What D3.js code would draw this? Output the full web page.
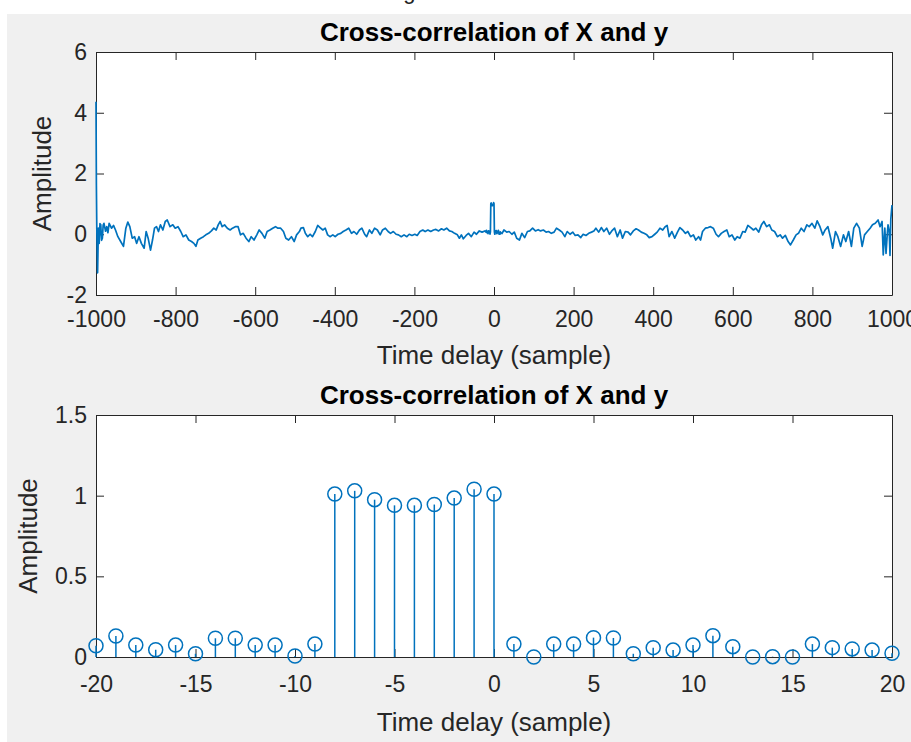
<!DOCTYPE html>
<html>
<head>
<meta charset="utf-8">
<script src="https://cdn.jsdelivr.net/npm/d3@7"></script>
<style>
  body { margin: 0; background: #fff; }
  svg { display: block; }
</style>
</head>
<body>
<script>
// top panel: full cross-correlation, [lag, amplitude]
const xcorrLeft = [
  [-1000, 4.36], [-999, 1.6], [-998, 0.2], [-996, -1.27], [-994, 0.2], [-992, -0.3],
  [-990, 0.35], [-988, 0.31], [-986, -0.2], [-984, -0.13], [-982, 0.3], [-980, 0.36],
  [-976, 0.1], [-973, 0.25], [-970, 0.05], [-967, 0.36], [-961, 0.2], [-956, 0.29],
  [-951, 0.14], [-945, -0.08], [-938, -0.24], [-931, -0.4], [-925, 0.2], [-920, 0.4],
  [-915, 0.25], [-909, -0.13], [-903, -0.08], [-898, -0.3], [-892, -0.08], [-886, -0.3],
  [-879, -0.46], [-874, 0.09], [-869, -0.13], [-863, -0.52], [-858, -0.19], [-853, 0.2],
  [-848, 0.25], [-843, 0.09], [-838, 0.31], [-832, 0.14], [-826, 0.42], [-821, 0.47],
  [-814, 0.25], [-807, 0.31], [-801, 0.2], [-794, 0.25], [-787, 0.09], [-781, -0.08],
  [-774, -0.02], [-767, -0.19], [-760, -0.24], [-754, -0.3], [-749, -0.4], [-744, -0.19],
  [-737, -0.13], [-730, -0.08], [-724, -0.02], [-717, 0.03], [-710, 0.11], [-704, 0.2],
  [-698, 0.14], [-693, 0.31], [-688, 0.42], [-683, 0.25], [-677, 0.31], [-670, 0.2],
  [-663, 0.14], [-657, 0.2], [-650, 0.25], [-643, 0.25], [-637, -0.02], [-630, 0.03],
  [-623, -0.13], [-616, -0.24], [-610, -0.08], [-603, -0.19], [-596, -0.02], [-590, 0.14],
  [-583, 0.03], [-576, -0.13], [-570, 0.09], [-563, 0.14], [-556, 0.2], [-549, 0.25],
  [-543, 0.2], [-536, 0.2], [-529, 0.09], [-523, -0.13], [-516, -0.19], [-509, -0.08],
  [-502, -0.24], [-496, -0.02], [-489, 0.09], [-485, 0.2], [-479, 0.22], [-474, 0.03],
  [-468, -0.08], [-462, 0], [-456, -0.08], [-449, 0.09], [-443, 0.29], [-437, 0.22],
  [-430, 0.14], [-424, 0.2], [-418, -0.02], [-412, -0.08], [-405, -0.02], [-399, -0.08],
  [-392, 0], [-385, 0.03], [-379, 0.09], [-372, 0.14], [-365, 0.2], [-358, 0.03],
  [-352, 0.09], [-345, 0], [-338, 0.14], [-332, 0.2], [-325, 0], [-320, -0.08],
  [-313, 0.14], [-307, 0.03], [-300, 0.2], [-293, 0.14], [-286, -0.02], [-280, 0.14],
  [-273, 0.2], [-266, 0.09], [-260, 0.03], [-253, 0.09], [-246, 0], [-240, -0.02],
  [-233, -0.08], [-226, -0.02], [-219, -0.08], [-213, 0], [-206, -0.04], [-199, 0],
  [-193, -0.04], [-186, 0.09], [-179, 0.14], [-173, 0.09], [-166, 0.14], [-159, 0.09],
  [-152, 0.14], [-146, 0.16], [-139, 0.11], [-132, 0.18], [-126, 0.14], [-119, 0.2],
  [-112, 0.11], [-106, 0.09], [-99, 0.03], [-92, -0.02], [-87, -0.13], [-82, -0.02],
  [-77, -0.15], [-70, -0.04], [-64, 0.03], [-57, -0.08], [-50, 0.07], [-44, 0],
  [-37, 0.11], [-30, 0.07], [-23, 0.11]
];

const xcorrRight = [
  [25, 0.14], [32, 0.07], [38, 0.09], [45, 0], [51, 0.07], [57, -0.13], [64, -0.19],
  [70, 0.03], [77, -0.11], [84, 0.09], [90, 0.11], [97, 0.2], [104, 0.11], [111, 0.15],
  [117, 0.11], [124, 0.14], [131, 0.07], [137, 0.09], [144, 0.03], [151, 0.07], [157, 0.2],
  [164, 0.14], [171, 0.07], [178, -0.08], [184, 0.09], [191, 0], [198, 0.07], [204, -0.04],
  [211, -0.02], [218, -0.11], [224, 0], [231, -0.04], [238, 0.03], [245, 0.07], [251, 0.11],
  [256, 0.2], [263, 0.07], [270, 0.22], [276, 0.09], [283, 0.2], [290, 0], [296, 0.11],
  [303, 0.2], [310, -0.08], [317, 0.14], [323, -0.13], [330, 0.09], [337, 0.07], [343, -0.02],
  [350, 0.11], [357, 0.18], [363, 0.14], [370, 0.07], [377, 0.03], [384, -0.02], [390, -0.11],
  [397, -0.08], [404, 0], [410, 0.07], [417, 0.2], [424, 0.14], [430, 0.25], [435, 0.29],
  [440, -0.08], [447, 0.09], [454, -0.13], [461, 0.07], [467, 0.22], [474, 0.14], [481, 0.03],
  [487, 0.09], [494, -0.08], [501, -0.02], [507, -0.19], [514, -0.08], [519, -0.19],
  [524, 0.09], [531, 0.2], [538, 0.22], [544, 0.25], [551, 0.2], [558, 0], [564, -0.08],
  [571, 0.03], [578, 0.09], [585, 0.14], [591, -0.08], [598, -0.02], [605, -0.19],
  [611, -0.08], [618, -0.13], [625, 0.09], [631, 0.07], [638, 0.29], [645, 0.22], [652, 0.14],
  [658, 0.2], [665, 0.07], [672, 0.31], [678, 0.42], [685, 0.25], [692, 0.31], [698, 0.14],
  [705, 0.09], [712, -0.08], [719, -0.02], [725, -0.13], [732, -0.04], [739, -0.24],
  [745, -0.35], [752, -0.19], [759, -0.02], [765, 0.03], [772, 0.2], [779, 0.09], [786, 0.31],
  [792, 0.25], [799, 0.36], [806, 0.2], [812, 0.44], [819, 0.25], [826, -0.02], [832, 0.14],
  [839, 0.25], [846, -0.13], [851, -0.46], [858, 0.09], [864, -0.08], [871, -0.4],
  [878, -0.02], [884, -0.24], [891, 0.09], [898, -0.4], [904, 0.2], [911, 0.36], [918, 0.2],
  [925, -0.4], [931, -0.02], [938, 0.09], [945, 0.2], [951, 0.31], [958, 0.36], [965, 0.47],
  [970, 0.25], [975, 0.42], [978, -0.68], [982, 0.2], [985, -0.63], [988, -0.02],
  [990, 0.31], [993, 0.1], [995, -0.7], [997, 0.5], [1000, 0.96]
];

// bottom panel: lags -20..20 (also the middle of the top trace)
const stemLags = d3.range(-20, 21);
const stemAmps = [0.07, 0.13, 0.074, 0.045, 0.074, 0.02, 0.116, 0.116, 0.074, 0.074, 0.006, 0.08,
                  1.01, 1.03, 0.975, 0.94, 0.94, 0.945, 0.985, 1.04, 1.01,
                  0.08, 0.0, 0.08, 0.08, 0.12, 0.118, 0.02, 0.058, 0.043, 0.074, 0.132, 0.064,
                  0.0, 0.002, 0.0, 0.08, 0.058, 0.05, 0.043, 0.023];

const topXTicks = d3.range(-1000, 1001, 200);
const topYTicks = [-2, 0, 2, 4, 6];
const botXTicks = d3.range(-20, 21, 5);
const botYTicks = [0, 0.5, 1, 1.5];

const titleText = "Cross-correlation of X and y";
const xLabelText = "Time delay (sample)";
const yLabelText = "Amplitude";

const width = 911, height = 742;
const blue = "#0072BD", axisCol = "#262626";
const font = "'Liberation Sans', Arial, Helvetica, sans-serif";
const plain = d => String(d);   // matlab style: hyphen minus, no grouping

const svg = d3.select("body").append("svg")
    .attr("width", width)
    .attr("height", height);

svg.append("rect").attr("width", width).attr("height", height).attr("fill", "#fff");
// window caption, mostly scrolled off the top
svg.append("text")
    .attr("x", 385).attr("y", -1)
    .attr("font-family", font).attr("font-size", 22).attr("fill", "#222")
    .text("Figure");
svg.append("rect")
    .attr("x", 7).attr("y", 14)
    .attr("width", width - 7).attr("height", height - 14)
    .attr("fill", "#f0f0f0");

function panel(box, xDom, yDom, xTicks, yTicks) {
  const x = d3.scaleLinear().domain(xDom).range([box.left, box.right]);
  const y = d3.scaleLinear().domain(yDom).range([box.bottom, box.top]);

  svg.append("rect")
      .attr("x", box.left).attr("y", box.top)
      .attr("width", box.right - box.left).attr("height", box.bottom - box.top)
      .attr("fill", "#fff");

  const g = svg.append("g");
  g.append("g").attr("transform", `translate(0,${box.bottom})`)
      .call(d3.axisBottom(x).tickValues(xTicks).tickSizeInner(-8).tickSizeOuter(0)
              .tickPadding(box.xPad).tickFormat(plain));
  g.append("g").attr("transform", `translate(0,${box.top})`)
      .call(d3.axisTop(x).tickValues(xTicks).tickSizeInner(-8).tickSizeOuter(0).tickFormat(""));
  g.append("g").attr("transform", `translate(${box.left},0)`)
      .call(d3.axisLeft(y).tickValues(yTicks).tickSizeInner(-8).tickSizeOuter(0)
              .tickPadding(9).tickFormat(plain));
  g.append("g").attr("transform", `translate(${box.right},0)`)
      .call(d3.axisRight(y).tickValues(yTicks).tickSizeInner(-8).tickSizeOuter(0).tickFormat(""));

  g.selectAll(".domain, .tick line").attr("stroke", axisCol).attr("stroke-width", 1);
  g.selectAll(".tick text")
      .attr("font-family", font).attr("font-size", 23).attr("fill", axisCol);

  const cx = (box.left + box.right) / 2;
  svg.append("text")
      .attr("x", cx).attr("y", box.top - 11)
      .attr("text-anchor", "middle")
      .attr("font-family", font).attr("font-size", 26).attr("font-weight", "bold").attr("fill", "#000")
      .text(titleText);
  svg.append("text")
      .attr("x", cx).attr("y", box.bottom + box.xLab)
      .attr("text-anchor", "middle")
      .attr("font-family", font).attr("font-size", 26).attr("fill", axisCol)
      .text(xLabelText);
  svg.append("text")
      .attr("transform", `translate(${box.yLab},${(box.top + box.bottom) / 2}) rotate(-90)`)
      .attr("text-anchor", "middle")
      .attr("font-family", font).attr("font-size", 26).attr("fill", axisCol)
      .text(yLabelText);

  return { x, y, g };
}

// top panel
const topPanel = panel({ left: 96, right: 892, top: 52, bottom: 295, xPad: 16, xLab: 69, yLab: 51 },
                  [-1000, 1000], [-2, 6], topXTicks, topYTicks);

const topSeries = xcorrLeft
    .concat(stemLags.map((l, i) => [l, stemAmps[i]]))
    .concat(xcorrRight);

const line = d3.line()
    .x(d => topPanel.x(d[0]))
    .y(d => topPanel.y(d[1]));

svg.append("path")
    .datum(topSeries)
    .attr("d", line)
    .attr("fill", "none")
    .attr("stroke", blue)
    .attr("stroke-width", 1.7)
    .attr("stroke-linejoin", "round");

// bottom panel
const botPanel = panel({ left: 96, right: 892, top: 415, bottom: 657, xPad: 19, xLab: 74, yLab: 37 },
                  [-20, 20], [0, 1.5], botXTicks, botYTicks);

const stems = svg.append("g");
stems.selectAll("line")
    .data(stemLags)
    .join("line")
    .attr("x1", d => botPanel.x(d)).attr("x2", d => botPanel.x(d))
    .attr("y1", botPanel.y(0))
    .attr("y2", (d, i) => botPanel.y(stemAmps[i]))
    .attr("stroke", blue)
    .attr("stroke-width", 1.5);

stems.selectAll("circle")
    .data(stemLags)
    .join("circle")
    .attr("cx", d => botPanel.x(d))
    .attr("cy", (d, i) => botPanel.y(stemAmps[i]))
    .attr("r", 7)
    .attr("fill", "none")
    .attr("stroke", blue)
    .attr("stroke-width", 1.5);
</script>
</body>
</html>
